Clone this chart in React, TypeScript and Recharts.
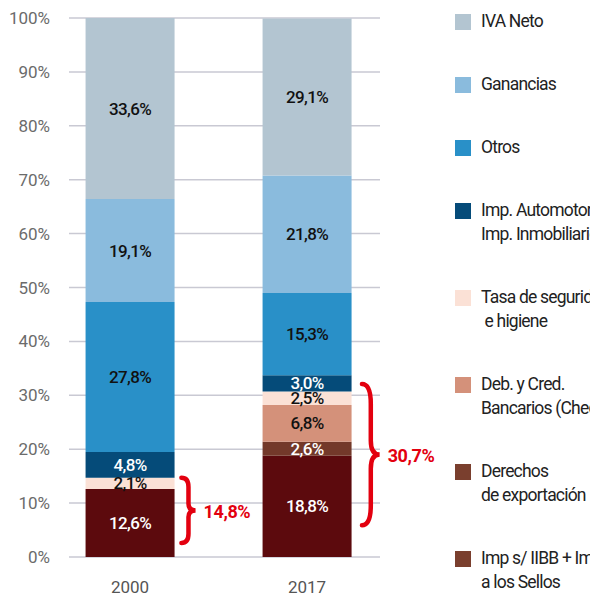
import React from "react"
import { BarChart, Bar, XAxis, YAxis, CartesianGrid, LabelList, ReferenceArea } from "recharts"

const years = ["2000", "2017"]
const impSellos = [12.6, 18.8]
const derechos = [0, 2.6]
const debCred = [0, 6.8]
const tasa = [2.1, 2.5]
const automotor = [4.8, 3.0]
const otros = [27.8, 15.3]
const ganancias = [19.1, 21.8]
const ivaNeto = [33.6, 29.1]
const yTicks = [0, 10, 20, 30, 40, 50, 60, 70, 80, 90, 100]

const series = [
  { key: "impSellos", values: impSellos, color: "#5c0a0d", legendColor: "#7a3f2e", text: "#ffffff", label: "Imp s/ IIBB + Imp.\na los Sellos" },
  { key: "derechos", values: derechos, color: "#73392a", legendColor: "#7a3f2e", text: "#ffffff", label: "Derechos\nde exportación" },
  { key: "debCred", values: debCred, color: "#d4917a", legendColor: "#d4917a", text: "#111111", label: "Deb. y Cred.\nBancarios (Cheques)" },
  { key: "tasa", values: tasa, color: "#fbe1d6", legendColor: "#fbe1d6", text: "#111111", label: "Tasa de seguridad\n e higiene" },
  { key: "automotor", values: automotor, color: "#054b79", legendColor: "#054b79", text: "#ffffff", label: "Imp. Automotor +\nImp. Inmobiliario" },
  { key: "otros", values: otros, color: "#2990c8", legendColor: "#2990c8", text: "#111111", label: "Otros" },
  { key: "ganancias", values: ganancias, color: "#8abbdd", legendColor: "#8abbdd", text: "#111111", label: "Ganancias" },
  { key: "ivaNeto", values: ivaNeto, color: "#b3c5d1", legendColor: "#b3c5d1", text: "#111111", label: "IVA Neto" },
]

const data = years.map((year, i) => {
  const row: Record<string, number | string> = { x: i, year }
  series.forEach((s) => {
    row[s.key] = s.values[i]
  })
  return row
})

const font = "Roboto, 'Noto Sans', sans-serif"
const fmt = (v: number) => v.toFixed(1).replace(".", ",") + "%"

function makeLabel(color: string) {
  return (props: any) => {
    const { x, y, width, height, value } = props
    if (!value) return null
    return (
      <text
        x={x + width / 2}
        y={y + height / 2}
        textAnchor="middle"
        dominantBaseline="central"
        fill={color}
        fontSize={17}
        fontWeight={500}
        fontFamily={font}
        letterSpacing={-0.6}
      >
        {fmt(value)}
      </text>
    )
  }
}

function brace(text: string) {
  return (props: any) => {
    const { x, y, width, height } = props
    const x0 = x
    const x1 = x + width
    const xm = x + width * 0.5
    const top = y
    const bot = y + height
    const mid = y + height / 2
    const d = `M ${x0} ${top} Q ${xm} ${top} ${xm} ${top + height * 0.14} L ${xm} ${mid - height * 0.1} Q ${xm} ${mid} ${x1} ${mid} Q ${xm} ${mid} ${xm} ${mid + height * 0.1} L ${xm} ${bot - height * 0.14} Q ${xm} ${bot} ${x0} ${bot}`
    return (
      <g>
        <path d={d} fill="none" stroke="#e3000f" strokeWidth={4.5} strokeLinecap="round" />
        <text
          x={x1 + 8}
          y={mid + 1}
          dominantBaseline="central"
          fill="#e3000f"
          fontSize={18}
          fontWeight={700}
          fontFamily={font}
          letterSpacing={-0.4}
        >
          {text}
        </text>
      </g>
    )
  }
}

const legendItems = [...series].reverse()

export default function App() {
  return (
    <div style={{ position: "absolute", left: 0, top: 0, width: 590, height: 601, overflow: "hidden", background: "#fff" }}>
      <BarChart width={590} height={601} data={data} margin={{ top: 18, right: 210, left: 0, bottom: 4 }}>
        <CartesianGrid stroke="#c9c9d3" strokeWidth={1.5} vertical={false} />
        <XAxis
          dataKey="x"
          type="number"
          domain={[-0.345, 1.412]}
          ticks={[0, 1]}
          tickFormatter={(v: number) => years[v]}
          allowDataOverflow
          axisLine={false}
          tickLine={false}
          tickSize={0}
          tickMargin={24}
          height={40}
          tick={{ fill: "#555", fontSize: 17, fontFamily: font }}
        />
        <YAxis
          domain={[0, 100]}
          ticks={yTicks}
          tickFormatter={(v: number) => `${v}%`}
          axisLine={false}
          tickLine={false}
          tickSize={0}
          tickMargin={19}
          width={69}
          tick={{ fill: "#6b6b6b", fontSize: 17, fontFamily: font }}
        />
        {series.map((s) => (
          <Bar key={s.key} dataKey={s.key} stackId="a" fill={s.color} barSize={89} isAnimationActive={false}>
            <LabelList dataKey={s.key} content={makeLabel(s.text)} />
          </Bar>
        ))}
        <ReferenceArea x1={0.29} x2={0.37} y1={2.6} y2={14.7} ifOverflow="visible" shape={brace("14,8%")} />
        <ReferenceArea x1={1.31} x2={1.41} y1={5.9} y2={32.1} ifOverflow="visible" shape={brace("30,7%")} />
      </BarChart>
      <div style={{ position: "absolute", left: 455, top: 9, fontFamily: font, fontSize: 17.5, color: "#222", lineHeight: "24px" }}>
        {legendItems.map((s) => (
          <div key={s.key} style={{ display: "flex", alignItems: "flex-start", marginBottom: 39 }}>
            <div style={{ width: 16, height: 16, background: s.legendColor, marginTop: 5, marginRight: 10, flexShrink: 0 }} />
            <div style={{ whiteSpace: "pre", letterSpacing: -0.8 }}>{s.label}</div>
          </div>
        ))}
      </div>
    </div>
  )
}
